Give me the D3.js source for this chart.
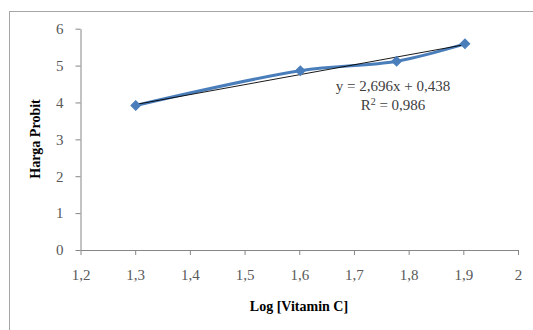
<!DOCTYPE html>
<html>
<head>
<meta charset="utf-8">
<script src="https://cdn.jsdelivr.net/npm/d3@7"></script>
<style>
  body { margin: 0; background: #fff; }
  svg { display: block; font-family: "Liberation Serif", "Times New Roman", serif; }
</style>
</head>
<body>
<div class="svg-chart"></div>
<script>
// data
const logVitC = [1.301, 1.602, 1.778, 1.903];
const probit = [3.92, 4.86, 5.12, 5.59];
const xTicks = [1.2, 1.3, 1.4, 1.5, 1.6, 1.7, 1.8, 1.9, 2];
const yTicks = [0, 1, 2, 3, 4, 5, 6];
const slope = 2.696, intercept = 0.438, r2 = 0.986;

const width = 533, height = 330;
const margin = { top: 28.7, right: 15, bottom: 80, left: 80.5 };

const svg = d3.select('.svg-chart').append('svg')
    .attr('width', width)
    .attr('height', height);

// chart border (right / bottom are cut off in the original)
svg.append('rect')
    .attr('x', 9.5).attr('y', 11.5)
    .attr('width', 540).attr('height', 340)
    .attr('fill', 'none')
    .attr('stroke', '#a6a6a6')
    .attr('stroke-width', 1);

let x = d3.scaleLinear()
    .domain([1.2, 2])
    .range([margin.left, 518]);

let y = d3.scaleLinear()
    .domain([0, 6])
    .range([250, margin.top]);

const fmt = d => String(d).replace('.', ',');

const xAxis = svg.append('g')
    .attr('transform', 'translate(0,250)')
    .call(d3.axisBottom(x).tickValues(xTicks).tickFormat(fmt).tickSizeInner(5).tickSizeOuter(0).tickPadding(14));

const yAxis = svg.append('g')
    .attr('transform', 'translate(' + margin.left + ',0)')
    .call(d3.axisLeft(y).tickValues(yTicks).tickFormat(fmt).tickSizeInner(5).tickSizeOuter(0).tickPadding(12));

[xAxis, yAxis].forEach(a => {
    a.select('.domain').attr('stroke', '#868686');
    a.selectAll('.tick line').attr('stroke', '#868686');
    a.selectAll('.tick text')
        .attr('fill', '#595959')
        .style('font-size', '15px')
        .style('font-family', '"Liberation Serif", serif');
});

const xr = d3.extent(logVitC);
const pts = logVitC.map((v, i) => ({ x: v, y: probit[i] }));

let line = d3.line()
    .x(d => x(d.x))
    .y(d => y(d.y))
    .curve(d3.curveCatmullRom.alpha(0.5));

svg.append('path')
    .datum(pts)
    .attr('fill', 'none')
    .attr('stroke', '#4a7ebb')
    .attr('stroke-width', 3)
    .attr('stroke-linejoin', 'round')
    .attr('stroke-linecap', 'round')
    .attr('d', line);

// linear trendline, on top of the series
svg.append('line')
    .attr('x1', x(xr[0])).attr('y1', y(slope * xr[0] + intercept))
    .attr('x2', x(xr[1])).attr('y2', y(slope * xr[1] + intercept))
    .attr('stroke', '#000')
    .attr('stroke-width', 0.9);

svg.selectAll('.dot')
    .data(pts)
    .enter()
    .append('path')
    .attr('transform', d => 'translate(' + x(d.x) + ',' + y(d.y) + ') rotate(45)')
    .attr('d', d3.symbol(d3.symbolSquare, 46))
    .attr('fill', '#4a7ebb')
    .attr('stroke', '#4a7ebb')
    .attr('stroke-width', 1);

// equation label
const eq = svg.append('text')
    .attr('x', 393).attr('y', 91)
    .attr('text-anchor', 'middle')
    .attr('fill', '#404040')
    .style('font-size', '15px');
eq.append('tspan').attr('x', 393).text('y = ' + fmt(slope) + 'x + ' + fmt(intercept));
const r2line = eq.append('tspan').attr('x', 393).attr('dy', 18.5);
r2line.append('tspan').text('R');
r2line.append('tspan').attr('dy', -5).style('font-size', '10px').text('2');
r2line.append('tspan').attr('dy', 5).text(' = ' + fmt(r2));

// axis titles
svg.append('text')
    .attr('x', 299).attr('y', 311)
    .attr('text-anchor', 'middle')
    .attr('font-weight', 'bold')
    .attr('fill', '#000')
    .style('font-size', '14px')
    .text('Log [Vitamin C]');

svg.append('text')
    .attr('transform', 'translate(40,139) rotate(-90)')
    .attr('text-anchor', 'middle')
    .attr('font-weight', 'bold')
    .attr('fill', '#000')
    .style('font-size', '14px')
    .text('Harga Probit');
</script>
</body>
</html>
